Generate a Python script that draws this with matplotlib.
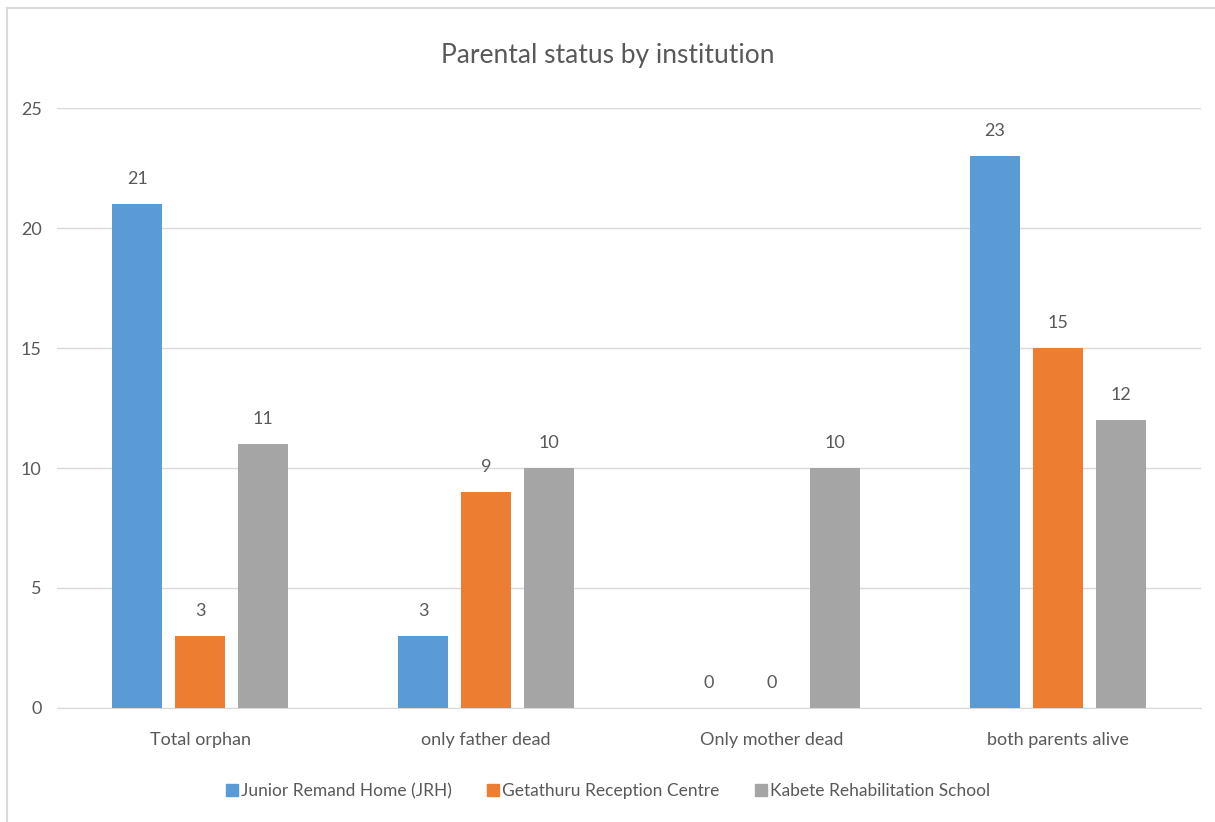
import numpy as np
import matplotlib.pyplot as plt
from matplotlib.lines import Line2D

# donnees
categories = ["Total orphan", "only father dead", "Only mother dead", "both parents alive"]
series = ["Junior Remand Home (JRH)", "Getathuru Reception Centre", "Kabete Rehabilitation School"]
jrh = [21, 3, 0, 23]
getathuru = [3, 9, 0, 15]
kabete = [11, 10, 10, 12]
couleurs = ["#5B9BD5", "#ED7D31", "#A5A5A5"]

plt.rcParams['font.family'] = ['Lato', 'DejaVu Sans']
gris_texte = "#595959"

fig = plt.figure(figsize=(12.15, 8.22), dpi=100)
ax = fig.add_axes([57 / 1215, 1 - 708 / 822, 1144 / 1215, 600 / 822])

x = np.arange(len(categories))
largeur = 0.175
decalage = 0.22
for i, (vals, nom) in enumerate(zip([jrh, getathuru, kabete], series)):
    pos = x + (i - 1) * decalage
    barres = ax.bar(pos, vals, largeur, color=couleurs[i], label=nom, zorder=3)
    for p, v in zip(pos, vals):
        ax.text(p, v + 0.7, str(v), ha='center', va='bottom', fontsize=13, color=gris_texte)

ax.set_xlim(-0.5, 3.5)
ax.set_ylim(0, 25)
ax.set_yticks(range(0, 26, 5))
ax.grid(axis='y', color='#D9D9D9', linewidth=1, zorder=0)
for s in ['top', 'right', 'left']:
    ax.spines[s].set_visible(False)
ax.spines['bottom'].set_color('#D9D9D9')
ax.tick_params(length=0, colors=gris_texte, labelsize=13)
ax.tick_params(axis='y', pad=11)
ax.tick_params(axis='x', pad=17)
ax.set_xticks(x)
ax.set_xticklabels(categories)

fig.text(0.5, 1 - 55 / 822, "Parental status by institution", ha='center', va='center',
         fontsize=19, color=gris_texte)

# legende
poignees = [Line2D([], [], marker='s', linestyle='', markersize=9, color=c) for c in couleurs]
fig.legend(poignees, series, loc='center', bbox_to_anchor=(0.5, 1 - 791 / 822), ncol=3,
           frameon=False, fontsize=12.5, labelcolor=gris_texte, handletextpad=0.1,
           columnspacing=2.0, handlelength=0.8)

# cadre gauche et haut
fig.add_artist(Line2D([7 / 1215, 7 / 1215], [0, 1 - 8 / 822], color='#D9D9D9', linewidth=1.5))
fig.add_artist(Line2D([7 / 1215, 1], [1 - 8 / 822, 1 - 8 / 822], color='#D9D9D9', linewidth=1.5))

fig.savefig("out.png", dpi=100)
